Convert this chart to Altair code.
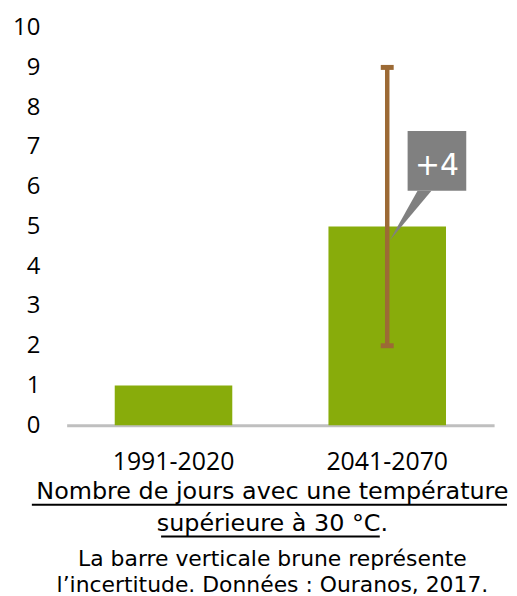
import altair as alt
import pandas as pd

# ---- data ----
periods = ["1991-2020", "2041-2070"]
days = [1, 5]
unc_period = ["2041-2070"]
unc_low = [2]
unc_high = [9]
y_ticks = [0, 1, 2, 3, 4, 5, 6, 7, 8, 9, 10]

increase = days[1] - days[0]
callout_label = [f"+{increase}"]

bars_df = pd.DataFrame({"period": periods, "days": days})
err_df = pd.DataFrame({"period": unc_period, "low": unc_low, "high": unc_high})
# callout box placed in data units next to the second bar
call_df = pd.DataFrame({
    "period": [periods[1]],
    "label": callout_label,
    "top": [7.4],
    "bottom": [5.9],
    "base": [6.3],
})

GREEN = "#88AC0B"
BROWN = "#9C6A35"
GREY = "#808080"

x_axis = alt.Axis(
    title=None, labelAngle=0, ticks=False, tickSize=0, labelPadding=24,
    labelFont="Open Sans", labelFontSize=25, labelColor="black",
    domainColor="#BFBFBF", domainWidth=3, grid=False,
)
x_scale = alt.Scale(domain=periods, paddingInner=0.45, paddingOuter=0.225)
y_scale = alt.Scale(domain=[0, 10], nice=False)
y_axis = alt.Axis(
    title=None, values=y_ticks, tickCount=11, ticks=False, tickSize=0, domain=False,
    grid=False, labelFont="Open Sans", labelFontSize=24, labelColor="black",
    labelPadding=27, labelOverlap=False,
)


def X():
    return alt.X("period:N", sort=periods, scale=x_scale, axis=x_axis)


def Y(field):
    return alt.Y(field, scale=y_scale, axis=y_axis)


bars = alt.Chart(bars_df).mark_bar(color=GREEN).encode(x=X(), y=Y("days:Q"))

base_call = alt.Chart(call_df)
pointer = base_call.mark_point(
    shape="M0,0 L0.28,0 L-0.56,1 Z", size=10000, filled=True,
    color=GREY, opacity=1, strokeWidth=0, xOffset=30.5,
).encode(x=X(), y=Y("bottom:Q"))

box = base_call.mark_bar(color=GREY, width=59, xOffset=50).encode(
    x=X(), y=Y("top:Q"), y2="bottom:Q"
)

label = base_call.mark_text(
    font="DejaVu Sans", fontSize=30, color="white", baseline="alphabetic",
    align="center", xOffset=50,
).encode(x=X(), y=Y("base:Q"), text="label:N")

base_err = alt.Chart(err_df)
err_rule = base_err.mark_rule(color=BROWN, strokeWidth=4.5).encode(
    x=X(), y=Y("low:Q"), y2="high:Q"
)
cap_low = base_err.mark_tick(color=BROWN, thickness=5, size=13, opacity=1).encode(
    x=X(), y=Y("low:Q")
)
cap_high = base_err.mark_tick(color=BROWN, thickness=5, size=13, opacity=1).encode(
    x=X(), y=Y("high:Q")
)

dummy = pd.DataFrame({"k": [0]})
underline1 = alt.Chart(dummy).mark_rule(color="black", strokeWidth=2).encode(
    x=alt.value(-35), x2=alt.value(443), y=alt.value(480)
)
underline2 = alt.Chart(dummy).mark_rule(color="black", strokeWidth=2).encode(
    x=alt.value(95), x2=alt.value(315), y=alt.value(512)
)

chart = alt.layer(
    bars, pointer, box, label, err_rule, cap_low, cap_high, underline1, underline2
).properties(
    width=430,
    height=400,
    padding={"left": 4, "top": 6, "right": 0, "bottom": 0},
    title=alt.TitleParams(
        text=["Nombre de jours avec une température", "supérieure à 30 °C."],
        subtitle=["La barre verticale brune représente",
                  "l’incertitude. Données : Ouranos, 2017."],
        orient="bottom", anchor="middle",
        font="DejaVu Sans", fontSize=24, fontWeight="normal", lineHeight=32,
        color="black",
        subtitleFont="DejaVu Sans", subtitleFontSize=22, subtitleLineHeight=26,
        subtitleColor="black", subtitlePadding=14,
        offset=-58, dx=-8,
    ),
).configure_view(stroke=None)

chart.save("out.html", embed_options={"renderer": "svg", "actions": False})
